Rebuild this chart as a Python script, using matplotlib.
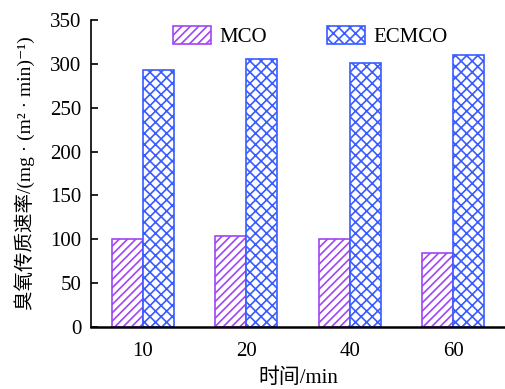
import matplotlib
matplotlib.use("Agg")
import matplotlib.pyplot as plt
import numpy as np

categories = ['10', '20', '40', '60']
mco = [100, 104, 100, 84]
ecmco = [293, 305, 301, 310]

plt.rcParams['font.family'] = ['Liberation Serif', 'Noto Sans CJK SC', 'DejaVu Serif']
plt.rcParams['hatch.linewidth'] = 1.2

fig = plt.figure(figsize=(5.06, 3.89), dpi=100)
ax = fig.add_axes([0.180, 0.159, 0.818, 0.790])

x = np.arange(len(categories))
w = 0.3
purple = '#a046f5'
blue = '#3a5cff'
b1 = ax.bar(x - w / 2, mco, w, facecolor='white', edgecolor=purple,
            hatch='////', linewidth=1.2, label='MCO')
b2 = ax.bar(x + w / 2, ecmco, w, facecolor='white', edgecolor=blue,
            hatch='xxx', linewidth=1.2, label='ECMCO')

ax.set_xlim(-0.5, 3.5)
ax.set_ylim(0, 350)
ax.set_yticks(np.arange(0, 351, 50))
ax.set_xticks(x)
ax.set_xticklabels(categories)
ax.spines['top'].set_visible(False)
ax.spines['right'].set_visible(False)
ax.spines['left'].set_linewidth(1.2)
ax.spines['bottom'].set_linewidth(1.8)
ax.tick_params(axis='y', direction='in', length=5, width=1.2, labelsize=15, pad=7)
ax.tick_params(axis='x', length=0, labelsize=15, pad=11)

ax.set_xlabel('时间/min', fontsize=15, labelpad=5)
ax.set_ylabel('臭氧传质速率/(mg · (m² · min)⁻¹)', fontsize=14, labelpad=11)

ax.legend(loc='upper center', ncol=2, frameon=False, fontsize=15,
          handlelength=1.8, handleheight=0.9, handletextpad=0.4,
          columnspacing=2.9, bbox_to_anchor=(0.53, 1.04))

fig.savefig('out.png', dpi=100)
